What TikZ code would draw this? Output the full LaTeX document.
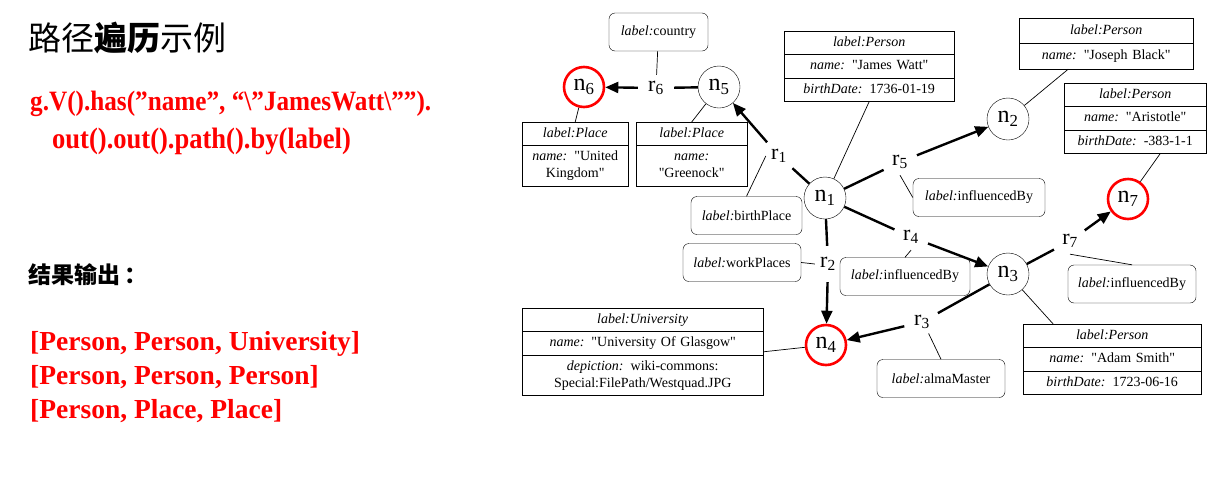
\documentclass[tikz,border=0pt]{standalone}
\usepackage{fontspec}
\setmainfont{Liberation Serif}
\newfontfamily\cjk{Noto Sans CJK SC}
\newfontfamily\codefont{Liberation Serif}[FakeStretch=0.9]
\usetikzlibrary{arrows.meta,shapes.multipart}
\font\qfont="Liberation Serif" at 14pt
\newcommand\dq{{\qfont\char34}}
\newcommand\q[1]{\dq#1\dq}
\newcommand\lbl[1]{\strut\textit{label:#1}}
\newcommand\kv[2]{\strut\textit{#1:} #2\strut}
\newcommand\rel[1]{\textit{label:}#1}

\begin{document}
\begin{tikzpicture}[x=1pt,y=-1pt]
\tikzstyle{every node}+=[inner sep=0pt]
\tikzstyle{vertex}=[draw, circle, minimum size=42pt, font=\fontsize{24}{24}\selectfont]
\tikzstyle{hit}=[vertex, draw=red, line width=2.6pt, minimum size=40pt]
\tikzstyle{relname}=[circle, minimum size=26pt, font=\fontsize{22}{22}\selectfont]
\tikzstyle{tag}=[draw, rounded corners=6pt, minimum height=38pt, font=\fontsize{14}{17}\selectfont]
\tikzstyle{props}=[draw, rectangle split, anchor=north west, align=center, inner xsep=3pt, inner ysep=3pt, font=\fontsize{14}{17}\selectfont]
\tikzstyle{relstem}=[line width=2.4pt, shorten >=5pt]
\tikzstyle{relhead}=[line width=2.4pt, shorten <=5pt, -{Triangle[length=13pt,width=11pt]}]
\tikzstyle{attach}=[line width=0.7pt]
\tikzstyle{code}=[anchor=base west, text=red, font=\codefont\bfseries\fontsize{28}{28}\selectfont]
\tikzstyle{result}=[anchor=base west, text=red, font=\bfseries\fontsize{27.5}{27.5}\selectfont]
\useasboundingbox (0,0) rectangle (1218,488);
% left column
\node[anchor=west, font=\cjk\fontsize{33}{33}\selectfont] (title) at (28,38) {路径{\bfseries 遍历}示例};
\node[code] (query) at (30,110) {g.V().has(”name”, “\textbackslash”JamesWatt\textbackslash””).};
\node[code, font=\codefont\bfseries\fontsize{29.5}{29.5}\selectfont] (query2) at (52,148) {out().out().path().by(label)};
\node[anchor=west, font=\cjk\bfseries\fontsize{23}{23}\selectfont] (outhead) at (28,275) {结果输出\hspace{4pt}：};
\node[result] (path1) at (30,350) {[Person, Person, University]};
\node[result] (path2) at (30,384) {[Person, Person, Person]};
\node[result] (path3) at (30,418) {[Person, Place, Place]};
% vertices
\node[vertex] (n1) at (825,198) {n\textsubscript{1}};
\node[vertex] (n2) at (1008,119) {n\textsubscript{2}};
\node[vertex] (n3) at (1008,274) {n\textsubscript{3}};
\node[hit] (n4) at (826,345) {n\textsubscript{4}};
\node[vertex] (n5) at (719,87) {n\textsubscript{5}};
\node[hit] (n6) at (584,87) {n\textsubscript{6}};
\node[hit] (n7) at (1128,199) {n\textsubscript{7}};
% relations
\node[relname] (r1) at (779,156) {r\textsubscript{1}};
\node[relname] (r2) at (828,264) {r\textsubscript{2}};
\node[relname] (r3) at (922,322) {r\textsubscript{3}};
\node[relname] (r4) at (911,237) {r\textsubscript{4}};
\node[relname] (r5) at (900,162) {r\textsubscript{5}};
\node[relname] (r6) at (656,88) {r\textsubscript{6}};
\node[relname] (r7) at (1070,241) {r\textsubscript{7}};
% relation labels
\node[tag, minimum width=99pt] (country) at (658.5,32) {\rel{country}};
\node[tag, minimum width=111pt] (bplace) at (746.5,215.5) {\rel{birthPlace}};
\node[tag, minimum width=118pt] (wplace) at (742,262.5) {\rel{workPlaces}};
\node[tag, minimum width=132pt] (ib5) at (979,197.5) {\rel{influencedBy}};
\node[tag, minimum width=130pt] (ib4) at (905,276.5) {\rel{influencedBy}};
\node[tag, minimum width=128pt] (ib7) at (1132,284) {\rel{influencedBy}};
\node[tag, minimum width=128pt] (alma) at (941,378.5) {\rel{almaMaster}};
% vertex properties
\node[props, rectangle split parts=3, text width=164pt] (jw) at (784,31)
  {\lbl{Person} \nodepart{two} \kv{name}{\q{James Watt}} \nodepart{three} \kv{birthDate}{1736-01-19}};
\node[props, rectangle split parts=2, text width=168pt, inner ysep=4pt] (jb) at (1019,18)
  {\lbl{Person} \nodepart{two} \kv{name}{\q{Joseph Black}}};
\node[props, rectangle split parts=3, text width=136pt] (ari) at (1064,83)
  {\lbl{Person} \nodepart{two} \kv{name}{\q{Aristotle}} \nodepart{three} \kv{birthDate}{-383-1-1}};
\node[props, rectangle split parts=3, text width=172pt] (adam) at (1023,324)
  {\lbl{Person} \nodepart{two} \kv{name}{\q{Adam Smith}} \nodepart{three} \kv{birthDate}{1723-06-16}};
\node[props, rectangle split parts=3, text width=235pt] (univ) at (522,308)
  {\lbl{University} \nodepart{two} \kv{name}{\q{University Of Glasgow}}
   \nodepart{three} \strut\textit{depiction:} wiki-commons:\\Special:FilePath/Westquad.JPG\strut};
\node[props, rectangle split parts=2, text width=100pt] (pl6) at (522,122)
  {\lbl{Place} \nodepart{two} \strut\textit{name:} \dq United\\Kingdom\dq\strut};
\node[props, rectangle split parts=2, text width=105pt] (pl5) at (636,122)
  {\lbl{Place} \nodepart{two} \strut\textit{name:}\\\q{Greenock}\strut};
% edges through relation names
\draw[relstem] (n5) -- (r6);
\draw[relhead] (r6) -- (n6);
\draw[relstem] (n1) -- (r1);
\draw[relhead] (r1) -- (n5);
\draw[relstem] (n1) -- (r2);
\draw[relhead] (r2) -- (n4);
\draw[relstem] (n3) -- (r3);
\draw[relhead] (r3) -- (n4);
\draw[relstem] (n1) -- (r4);
\draw[relhead] (r4) -- (n3);
\draw[relstem] (n1) -- (r5);
\draw[relhead] (r5) -- (n2);
\draw[relstem] (n3) -- (r7);
\draw[relhead] (r7) -- (n7);
% label links
\draw[attach] (country) -- (r6);
\draw[attach] (bplace.north) -- (r1.west);
\draw[attach] (wplace.east) -- (r2.west);
\draw[attach] (r5.south) -- (ib5.west);
\draw[attach] (r4.south) -- (ib4.north);
\draw[attach] (r7.south) -- (ib7.north);
\draw[attach] (r3.-60) -- (alma.north);
% property links
\draw[attach] (jw.south) -- (n1);
\draw[attach] ([xshift=-38pt]jb.south) -- (n2);
\draw[attach] ([xshift=25pt]ari.south) -- (n7);
\draw[attach] (n3) -- ([xshift=-59pt]adam.north);
\draw[attach] (univ.east) -- (n4);
\draw[attach] (pl6.north) -- (n6);
\draw[attach] (pl5.north) -- (n5);
\end{tikzpicture}
\end{document}
